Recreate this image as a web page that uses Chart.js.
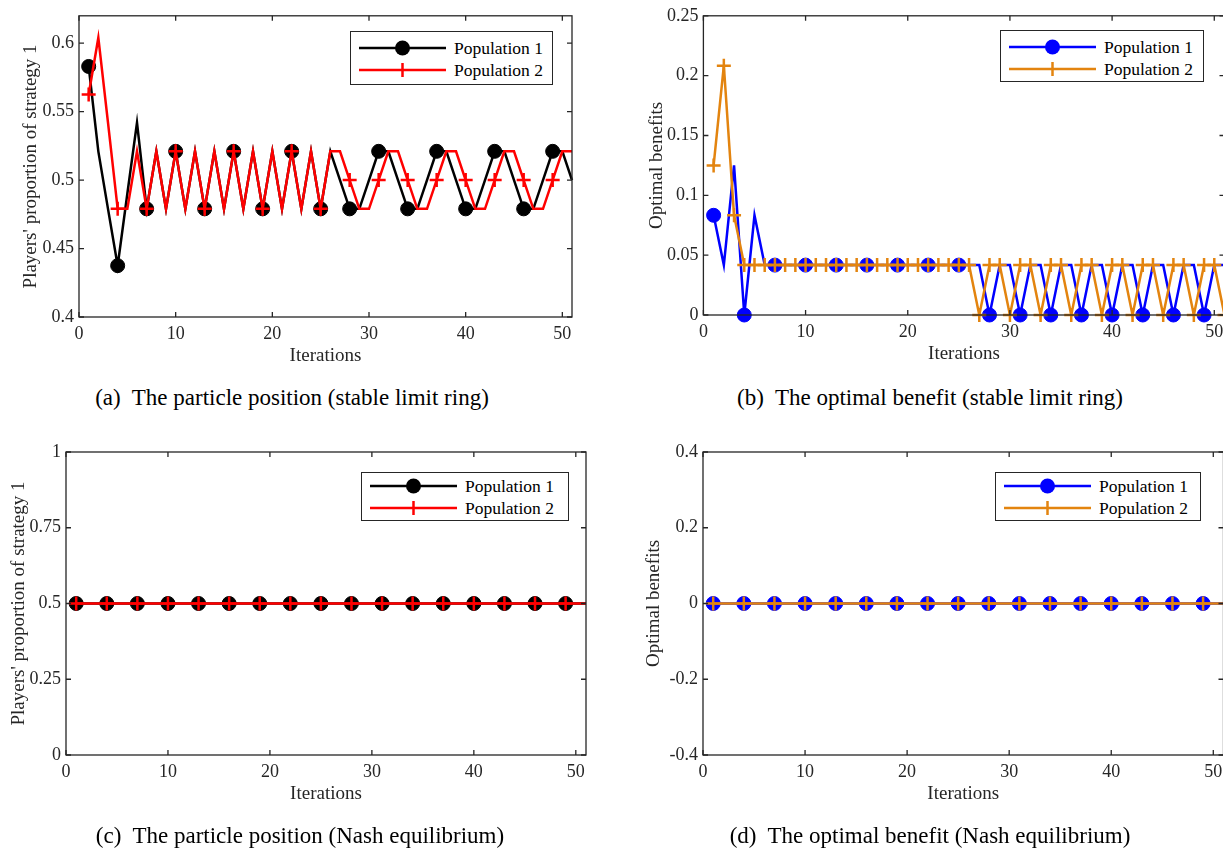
<!DOCTYPE html>
<html>
<head>
<meta charset="utf-8">
<script src="https://cdn.jsdelivr.net/npm/chart.js@4.4.1/dist/chart.umd.min.js"></script>
<style>
  html, body { margin: 0; padding: 0; background: #fff; }
  body { width: 1223px; height: 850px; overflow: hidden; position: relative; font-family: "Liberation Serif", "Times New Roman", serif; }
  canvas { position: absolute; }
  .legend { position: absolute; border: 1.3px solid #262626; background: #fff; box-sizing: border-box; }
  .row { position: absolute; left: 8px; height: 20px; display: flex; align-items: center; font-size: 17.5px; color: #000; white-space: nowrap; }
  .row svg { margin-right: 8px; }
  .caption { position: absolute; font-size: 23px; line-height: 26px; white-space: pre; transform: translateX(-50%); color: #000; }
</style>
</head>
<body>
<canvas id="chartA" width="611" height="380" style="left:0px;top:0px"></canvas>
<canvas id="chartB" width="640" height="380" style="left:630px;top:0px"></canvas>
<canvas id="chartC" width="611" height="420" style="left:0px;top:420px"></canvas>
<canvas id="chartD" width="640" height="420" style="left:630px;top:420px"></canvas>

<div class="caption" style="left:292px;top:385px">(a)  The particle position (stable limit ring)</div>
<div class="caption" style="left:930px;top:385px">(b)  The optimal benefit (stable limit ring)</div>
<div class="caption" style="left:300px;top:823px">(c)  The particle position (Nash equilibrium)</div>
<div class="caption" style="left:930px;top:823px">(d)  The optimal benefit (Nash equilibrium)</div>

<script>
// iterations 1..51
const iterations = [1, 2, 3, 4, 5, 6, 7, 8, 9, 10, 11, 12, 13, 14, 15, 16, 17, 18, 19, 20,
  21, 22, 23, 24, 25, 26, 27, 28, 29, 30, 31, 32, 33, 34, 35, 36, 37, 38, 39, 40,
  41, 42, 43, 44, 45, 46, 47, 48, 49, 50, 51];

// (a) proportion of strategy 1, stable limit ring
const posPop1 = [0.583, 0.521, 0.479, 0.4375, 0.49, 0.542, 0.479, 0.521, 0.479, 0.521,
  0.479, 0.521, 0.479, 0.521, 0.479, 0.521, 0.479, 0.521, 0.479, 0.521,
  0.479, 0.521, 0.479, 0.521, 0.479, 0.521, 0.5, 0.479, 0.479, 0.5,
  0.521, 0.521, 0.5, 0.479, 0.479, 0.5, 0.521, 0.521, 0.5, 0.479,
  0.479, 0.5, 0.521, 0.521, 0.5, 0.479, 0.479, 0.5, 0.521, 0.521, 0.5];
const posPop2 = [0.5625, 0.604, 0.542, 0.479, 0.479, 0.521, 0.479, 0.521, 0.479, 0.521,
  0.479, 0.521, 0.479, 0.521, 0.479, 0.521, 0.479, 0.521, 0.479, 0.521,
  0.479, 0.521, 0.479, 0.521, 0.479, 0.521, 0.521, 0.5, 0.479, 0.479,
  0.5, 0.521, 0.521, 0.5, 0.479, 0.479, 0.5, 0.521, 0.521, 0.5,
  0.479, 0.479, 0.5, 0.521, 0.521, 0.5, 0.479, 0.479, 0.5, 0.521, 0.521];

// (b) optimal benefits, stable limit ring
const benPop1 = [0.0833, 0.0417, 0.125, 0, 0.0833, 0.0417, 0.0417, 0.0417, 0.0417, 0.0417,
  0.0417, 0.0417, 0.0417, 0.0417, 0.0417, 0.0417, 0.0417, 0.0417, 0.0417, 0.0417,
  0.0417, 0.0417, 0.0417, 0.0417, 0.0417, 0.0417, 0.0417, 0, 0.0417, 0.0417,
  0, 0.0417, 0.0417, 0, 0.0417, 0.0417, 0, 0.0417, 0.0417, 0,
  0.0417, 0.0417, 0, 0.0417, 0.0417, 0, 0.0417, 0.0417, 0, 0.0417, 0.0417];
const benPop2 = [0.125, 0.2083, 0.0833, 0.0417, 0.0417, 0.0417, 0.0417, 0.0417, 0.0417, 0.0417,
  0.0417, 0.0417, 0.0417, 0.0417, 0.0417, 0.0417, 0.0417, 0.0417, 0.0417, 0.0417,
  0.0417, 0.0417, 0.0417, 0.0417, 0.0417, 0.0417, 0, 0.0417, 0.0417, 0,
  0.0417, 0.0417, 0, 0.0417, 0.0417, 0, 0.0417, 0.0417, 0, 0.0417,
  0.0417, 0, 0.0417, 0.0417, 0, 0.0417, 0.0417, 0, 0.0417, 0.0417, 0];

// (c) and (d) Nash equilibrium
const nashPos = [0.5, 0.5, 0.5, 0.5, 0.5, 0.5, 0.5, 0.5, 0.5, 0.5,
  0.5, 0.5, 0.5, 0.5, 0.5, 0.5, 0.5, 0.5, 0.5, 0.5,
  0.5, 0.5, 0.5, 0.5, 0.5, 0.5, 0.5, 0.5, 0.5, 0.5,
  0.5, 0.5, 0.5, 0.5, 0.5, 0.5, 0.5, 0.5, 0.5, 0.5,
  0.5, 0.5, 0.5, 0.5, 0.5, 0.5, 0.5, 0.5, 0.5, 0.5, 0.5];
const nashBen = [0, 0, 0, 0, 0, 0, 0, 0, 0, 0,
  0, 0, 0, 0, 0, 0, 0, 0, 0, 0,
  0, 0, 0, 0, 0, 0, 0, 0, 0, 0,
  0, 0, 0, 0, 0, 0, 0, 0, 0, 0,
  0, 0, 0, 0, 0, 0, 0, 0, 0, 0, 0];

// tick labels
const xTicks = [0, 10, 20, 30, 40, 50];
const yTicksA = [0.4, 0.45, 0.5, 0.55, 0.6];
const yTicksB = [0, 0.05, 0.1, 0.15, 0.2, 0.25];
const yTicksC = [0, 0.25, 0.5, 0.75, 1];
const yTicksD = [-0.4, -0.2, 0, 0.2, 0.4];
const seriesNames = ['Population 1', 'Population 2'];

const AXIS = '#262626';
const ORANGE = '#e3840f';
const FONT = '"Liberation Serif", "Times New Roman", serif';

function pts(ys) {
  return ys.map((y, i) => ({ x: iterations[i], y: y }));
}

// matlab-like box with inward ticks
const boxPlugin = {
  id: 'box',
  afterDatasetsDraw(chart) {
    const { ctx, chartArea: a, scales } = chart;
    ctx.save();
    ctx.strokeStyle = AXIS;
    ctx.lineWidth = 1.3;
    ctx.strokeRect(a.left, a.top, a.right - a.left, a.bottom - a.top);
    ctx.beginPath();
    scales.x.ticks.forEach(t => {
      const px = scales.x.getPixelForValue(t.value);
      ctx.moveTo(px, a.bottom); ctx.lineTo(px, a.bottom - 5);
      ctx.moveTo(px, a.top); ctx.lineTo(px, a.top + 5);
    });
    scales.y.ticks.forEach(t => {
      const py = scales.y.getPixelForValue(t.value);
      ctx.moveTo(a.left, py); ctx.lineTo(a.left + 5, py);
      ctx.moveTo(a.right, py); ctx.lineTo(a.right - 5, py);
    });
    ctx.stroke();
    ctx.restore();
  }
};

function makeChart(id, cfg) {
  const every3 = c => (c.dataIndex % 3 === 0 ? 7 : 0);
  const ds1 = {
    label: seriesNames[0], data: pts(cfg.y1), borderColor: cfg.c1, backgroundColor: cfg.c1,
    borderWidth: 2.5, pointStyle: 'circle', pointRadius: every3, pointBorderWidth: 1,
    pointBackgroundColor: cfg.c1, pointBorderColor: cfg.c1, tension: 0, clip: false, order: 2
  };
  const ds2 = {
    label: seriesNames[1], data: pts(cfg.y2), borderColor: cfg.c2, backgroundColor: cfg.c2,
    borderWidth: 2.5, pointStyle: 'cross', pointRadius: cfg.allCross ? 7 : every3, pointBorderWidth: 2.5,
    pointBorderColor: cfg.c2, tension: 0, clip: false, order: 1
  };
  return new Chart(document.getElementById(id), {
    type: 'line',
    data: { datasets: [ds1, ds2] },
    options: {
      responsive: false,
      animation: false,
      events: [],
      layout: { padding: cfg.pad },
      plugins: { legend: { display: false }, tooltip: { enabled: false } },
      scales: {
        x: {
          type: 'linear', min: 0, max: 51,
          grid: { display: false, drawTicks: false },
          border: { display: false },
          afterBuildTicks: s => { s.ticks = xTicks.map(v => ({ value: v })); },
          afterFit: s => { s.height = 50; },
          ticks: { font: { family: FONT, size: 18 }, color: AXIS, padding: 6, callback: v => String(v) },
          title: { display: true, text: 'Iterations', font: { family: FONT, size: 19 }, color: AXIS, padding: { top: 0, bottom: 0 } }
        },
        y: {
          type: 'linear', min: cfg.yMin, max: cfg.yMax,
          grid: { display: false, drawTicks: false },
          border: { display: false },
          afterBuildTicks: s => { s.ticks = cfg.yTicks.map(v => ({ value: v })); },
          afterFit: s => { s.width = cfg.yWidth; },
          ticks: { font: { family: FONT, size: 18 }, color: AXIS, padding: 5, callback: v => String(v) },
          title: { display: true, text: cfg.yTitle, font: { family: FONT, size: 19 }, color: AXIS, padding: { top: 4, bottom: 4 } }
        }
      }
    },
    plugins: [boxPlugin]
  });
}

makeChart('chartA', {
  y1: posPop1, y2: posPop2, c1: '#000000', c2: '#ff0000', yMin: 0.4, yMax: 0.62, yTicks: yTicksA,
  yTitle: "Players' proportion of strategy 1", yWidth: 63,
  pad: { left: 16, top: 15, right: 39, bottom: 13 }
});
makeChart('chartB', {
  y1: benPop1, y2: benPop2, c1: '#0000ff', c2: ORANGE, allCross: true, yMin: 0, yMax: 0.25, yTicks: yTicksB,
  yTitle: 'Optimal benefits', yWidth: 62,
  pad: { left: 11.4, top: 12.3, right: 45.5, bottom: 15 }
});
makeChart('chartC', {
  y1: nashPos, y2: nashPos, c1: '#000000', c2: '#ff0000', yMin: 0, yMax: 1, yTicks: yTicksC,
  yTitle: "Players' proportion of strategy 1", yWidth: 62.6,
  pad: { left: 3.4, top: 32, right: 25, bottom: 35 }
});
makeChart('chartD', {
  y1: nashBen, y2: nashBen, c1: '#0000ff', c2: ORANGE, yMin: -0.4, yMax: 0.4, yTicks: yTicksD,
  yTitle: 'Optimal benefits', yWidth: 64.6,
  pad: { left: 8.4, top: 32, right: 46.5, bottom: 35 }
});

// legends: line sample with marker + label
function sample(color, marker) {
  const m = marker === 'circle'
    ? `<circle cx="43.5" cy="10" r="7.5" fill="${color}"/>`
    : `<line x1="43.5" y1="3" x2="43.5" y2="17" stroke="${color}" stroke-width="2.5"/>`;
  return `<svg width="87" height="20"><line x1="0" y1="10" x2="87" y2="10" stroke="${color}" stroke-width="2.5"/>${m}</svg>`;
}
function legend(left, top, width, height, row1, row2, c1, c2) {
  const el = document.createElement('div');
  el.className = 'legend';
  el.style.cssText = `left:${left}px;top:${top}px;width:${width}px;height:${height}px`;
  el.innerHTML =
    `<div class="row" style="top:${row1 - 10}px">${sample(c1, 'circle')}<span>${seriesNames[0]}</span></div>` +
    `<div class="row" style="top:${row2 - 10}px">${sample(c2, 'cross')}<span>${seriesNames[1]}</span></div>`;
  document.body.appendChild(el);
}
legend(350, 31, 203, 54, 16, 38, '#000000', '#ff0000');
legend(1000, 30, 204, 52, 16, 38, '#0000ff', ORANGE);
legend(361, 472, 208, 49, 13, 35, '#000000', '#ff0000');
legend(995, 472, 206, 49, 13, 35, '#0000ff', ORANGE);
</script>
</body>
</html>
